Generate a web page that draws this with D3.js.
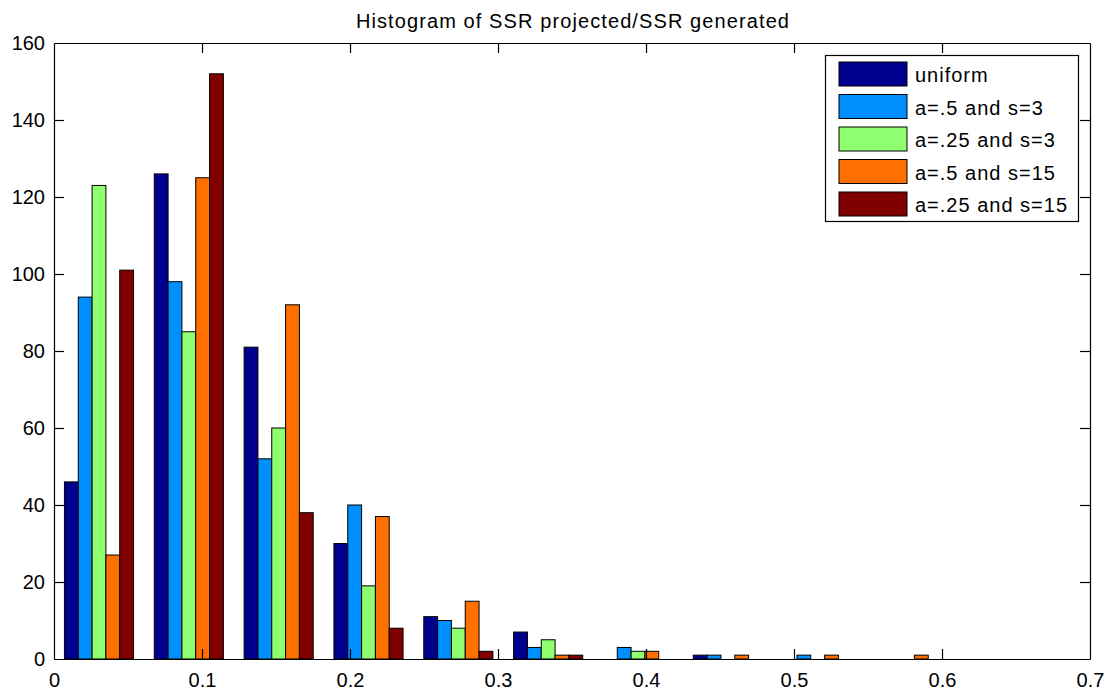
<!DOCTYPE html>
<html>
<head>
<meta charset="utf-8">
<script src="https://cdn.jsdelivr.net/npm/d3@7"></script>
<style>
  html, body { margin: 0; padding: 0; background: #fff; }
  svg { display: block; }
  text { font-family: "Liberation Sans", Arial, sans-serif; fill: #000; }
</style>
</head>
<body>
<svg id="chart" width="1117" height="696"></svg>
<script>
// ---- data ----
const binCenters = [0.0304, 0.0911, 0.1518, 0.2125, 0.2732, 0.3339, 0.3946, 0.4553, 0.5160, 0.5767];
const seriesNames = ["uniform", "a=.5 and s=3", "a=.25 and s=3", "a=.5 and s=15", "a=.25 and s=15"];
const uniform   = [46, 126, 81, 30, 11, 7, 0, 1, 0, 0];
const a05s3     = [94, 98, 52, 40, 10, 3, 3, 1, 1, 0];
const a025s3    = [123, 85, 60, 19, 8, 5, 2, 0, 0, 0];
const a05s15    = [27, 125, 92, 37, 15, 1, 2, 1, 1, 1];
const a025s15   = [101, 152, 38, 8, 2, 1, 0, 0, 0, 0];
const seriesValues = [uniform, a05s3, a025s3, a05s15, a025s15];
const colors = ["#00008F", "#008FFF", "#8FFF70", "#FF7000", "#800000"];
const xTicks = [0, 0.1, 0.2, 0.3, 0.4, 0.5, 0.6, 0.7];
const yTicks = [0, 20, 40, 60, 80, 100, 120, 140, 160];
const title = "Histogram of SSR projected/SSR generated";

// ---- layout ----
const L = 54, R = 1090, T = 43, B = 659;
const svg = d3.select("#chart");
const x = d3.scaleLinear().domain([0, 0.7]).range([L, R]);
const y = d3.scaleLinear().domain([0, 160]).range([B, T]);
const binW = x(binCenters[1]) - x(binCenters[0]);
const groupW = binW * 5 / 6.5;
const inner = d3.scaleBand().domain(seriesNames).range([-groupW / 2, groupW / 2]).padding(0);

// bars
const g = svg.append("g");
seriesNames.forEach((name, si) => {
  g.selectAll(null)
    .data(seriesValues[si].map((v, i) => ({ v, c: binCenters[i] })).filter(d => d.v > 0))
    .enter().append("rect")
    .attr("x", d => x(d.c) + inner(name))
    .attr("width", inner.bandwidth())
    .attr("y", d => y(d.v))
    .attr("height", d => y(0) - y(d.v))
    .attr("fill", colors[si])
    .attr("stroke", "#000")
    .attr("stroke-width", 1);
});

// axes (box with inward ticks)
const tickLen = 10;
const axB = svg.append("g").attr("transform", `translate(0,${B})`)
  .call(d3.axisBottom(x).tickValues(xTicks).tickSizeInner(-tickLen).tickSizeOuter(0).tickPadding(14).tickFormat(d3.format("")));
const axT = svg.append("g").attr("transform", `translate(0,${T})`)
  .call(d3.axisTop(x).tickValues(xTicks).tickSizeInner(-tickLen).tickSizeOuter(0).tickFormat(""));
const axL = svg.append("g").attr("transform", `translate(${L},0)`)
  .call(d3.axisLeft(y).tickValues(yTicks).tickSizeInner(-tickLen).tickSizeOuter(0).tickPadding(9));
const axR = svg.append("g").attr("transform", `translate(${R},0)`)
  .call(d3.axisRight(y).tickValues(yTicks).tickSizeInner(-tickLen).tickSizeOuter(0).tickFormat(""));
[axB, axT, axL, axR].forEach(a => {
  a.selectAll("path.domain").attr("stroke", "#000").attr("stroke-width", 1.2);
  a.selectAll(".tick line").attr("stroke", "#000").attr("stroke-width", 1.2);
  a.selectAll(".tick text").attr("font-size", 20).attr("font-family", "Liberation Sans, Arial, sans-serif").attr("fill", "#000");
});
// hide ticks at the box corners
axB.selectAll(".tick").filter(d => d === 0 || d === 0.7).select("line").remove();
axT.selectAll(".tick").filter(d => d === 0 || d === 0.7).select("line").remove();
axL.selectAll(".tick").filter(d => d === 0 || d === 160).select("line").remove();
axR.selectAll(".tick").filter(d => d === 0 || d === 160).select("line").remove();

// title
svg.append("text")
  .attr("x", (L + R) / 2 + 1).attr("y", 28)
  .attr("text-anchor", "middle")
  .attr("font-size", 20)
  .attr("letter-spacing", 1.1)
  .text(title);

// legend
const lg = svg.append("g");
lg.append("rect").attr("x", 825.5).attr("y", 55.5).attr("width", 253).attr("height", 166)
  .attr("fill", "#fff").attr("stroke", "#000").attr("stroke-width", 1.2);
const rowY = d3.scalePoint().domain(seriesNames).range([74, 204]);
seriesNames.forEach((name, si) => {
  lg.append("rect").attr("x", 839).attr("y", rowY(name) - 12).attr("width", 68).attr("height", 24)
    .attr("fill", colors[si]).attr("stroke", "#000").attr("stroke-width", 1);
  lg.append("text").attr("x", 915).attr("y", rowY(name) + 8).attr("font-size", 20)
    .attr("letter-spacing", 1).text(name);
});
</script>
</body>
</html>
